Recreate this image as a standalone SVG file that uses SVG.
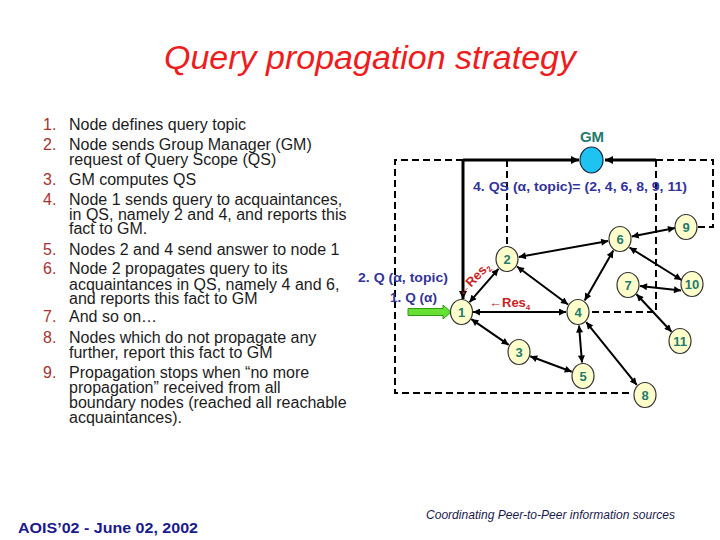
<svg xmlns="http://www.w3.org/2000/svg" width="720" height="540" viewBox="0 0 720 540">
<style>
.title{font-family:"Liberation Sans",Arial,sans-serif;font-style:italic;font-size:34px;fill:#ee1c1c}
.lst{font-family:"Liberation Sans",Arial,sans-serif;font-size:16px;fill:#1c1c1c}
.num{font-family:"Liberation Sans",Arial,sans-serif;font-size:16px;fill:#a83232}
.nd ellipse{fill:#ffffcc;stroke:#333;stroke-width:1.2}
.nd text{font-family:"Liberation Sans",Arial,sans-serif;font-size:13px;font-weight:bold;fill:#1f7a6c;text-anchor:middle}
.lbl{font-family:"Liberation Sans",Arial,sans-serif;font-size:13px;font-weight:bold;fill:#333399}
.res{font-family:"Liberation Sans",Arial,sans-serif;font-size:13px;font-weight:bold;fill:#cc2222}
.e{stroke:#000;stroke-width:2;fill:none;marker-start:url(#ah);marker-end:url(#ah)}
.g{stroke:#000;stroke-width:3;fill:none;marker-end:url(#ah2)}
.d{stroke:#000;stroke-width:2;fill:none;stroke-dasharray:7,4}
</style>
<defs>
<marker id="ah" viewBox="0 0 10 10" refX="10" refY="5" markerWidth="8" markerHeight="7" markerUnits="userSpaceOnUse" orient="auto-start-reverse">
<path d="M0,0 L10,5 L0,10 z" fill="#000"/>
</marker>
<marker id="ah2" viewBox="0 0 10 10" refX="10" refY="5" markerWidth="9" markerHeight="8" markerUnits="userSpaceOnUse" orient="auto">
<path d="M0,0 L10,5 L0,10 z" fill="#000"/>
</marker>
</defs>
<rect width="720" height="540" fill="#fff"/>
<text class="title" x="370" y="69" text-anchor="middle">Query propagation strategy</text>

<g id="list">
<text class="num" x="43" y="130">1.</text><text class="lst" x="69" y="130">Node defines  query topic</text>
<text class="num" x="43" y="150">2.</text><text class="lst" x="69" y="150">Node sends Group Manager (GM)</text>
<text class="lst" x="69" y="165">request of  Query Scope (QS)</text>
<text class="num" x="43" y="185">3.</text><text class="lst" x="69" y="185">GM computes QS</text>
<text class="num" x="43" y="205">4.</text><text class="lst" x="69" y="205">Node 1 sends query to acquaintances,</text>
<text class="lst" x="69" y="220">in QS, namely 2 and 4, and reports this</text>
<text class="lst" x="69" y="234">fact to GM.</text>
<text class="num" x="43" y="255">5.</text><text class="lst" x="69" y="255">Nodes 2 and 4 send answer to node 1</text>
<text class="num" x="43" y="274">6.</text><text class="lst" x="69" y="274">Node 2 propagates query to its</text>
<text class="lst" x="69" y="290">acquaintances in QS, namely 4 and 6,</text>
<text class="lst" x="69" y="304">and reports this fact to GM</text>
<text class="num" x="43" y="322">7.</text><text class="lst" x="69" y="322">And so on…</text>
<text class="num" x="43" y="343">8.</text><text class="lst" x="69" y="343">Nodes which do not propagate any</text>
<text class="lst" x="69" y="358">further, report this fact to GM</text>
<text class="num" x="43" y="378">9.</text><text class="lst" x="69" y="378">Propagation stops when “no more</text>
<text class="lst" x="69" y="393">propagation” received from all</text>
<text class="lst" x="69" y="408">boundary nodes (reached all reachable</text>
<text class="lst" x="69" y="423">acquaintances).</text>
</g>

<g id="connectors">
<path class="d" d="M463,160 H395 V393 H633"/>
<path class="d" d="M507,160 V246"/>
<path class="d" d="M656,160 V312 H590"/>
<path class="d" d="M656,160 H713 V227 H698"/>
<path class="g" d="M463,160 H579"/>
<path class="g" d="M656,160 H605"/>
<path class="g" d="M463,160 V299"/>
<line class="e" x1="469.5" y1="302.2" x2="498.5" y2="268.8"/>
<line class="e" x1="473" y1="312" x2="566" y2="312"/>
<line class="e" x1="471.3" y1="319.1" x2="508.7" y2="344.9"/>
<line class="e" x1="517" y1="266.5" x2="568" y2="304.5"/>
<line class="e" x1="518.8" y1="256.9" x2="608.2" y2="241.1"/>
<line class="e" x1="584.7" y1="300.4" x2="613.3" y2="250.6"/>
<line class="e" x1="631.7" y1="236.5" x2="675" y2="228"/>
<line class="e" x1="629.5" y1="247.5" x2="681.5" y2="280"/>
<line class="e" x1="640" y1="286" x2="681" y2="290.5"/>
<line class="e" x1="636.5" y1="294.2" x2="671.5" y2="331.8"/>
<line class="e" x1="579" y1="325.5" x2="582" y2="362.5"/>
<line class="e" x1="586.2" y1="322.1" x2="636.8" y2="384.9"/>
<line class="e" x1="530.2" y1="356.2" x2="571.8" y2="371.8"/>
<path d="M408,308.5 H443 V305 L451,312 L443,319 V315.5 H408 z" fill="#66e033" stroke="#2f9a10" stroke-width="1"/>
</g>

<g id="labels">
<text class="lbl" x="358" y="282" textLength="90" lengthAdjust="spacingAndGlyphs">2. Q (α, topic)</text>
<text class="lbl" x="390" y="302" textLength="47" lengthAdjust="spacingAndGlyphs">1. Q (α)</text>
<text class="lbl" x="473" y="191" textLength="214" lengthAdjust="spacingAndGlyphs">4. QS (α, topic)= (2, 4, 6, 8, 9, 11)</text>
<text class="res" x="489" y="307">←Res<tspan font-size="8" dy="3">4</tspan></text>
<text class="res" transform="translate(462,297) rotate(-46)" x="0" y="0">←Res<tspan font-size="8" dy="3">2</tspan></text>
</g>

<g id="GM">
<ellipse cx="591.5" cy="160" rx="11.5" ry="13" fill="#1ec3f2" stroke="#223" stroke-width="1.2"/>
<text x="592" y="142" text-anchor="middle" font-family="'Liberation Sans',Arial,sans-serif" font-size="15" font-weight="bold" fill="#1f7a6c">GM</text>
</g>
<g id="n1" class="nd"><ellipse cx="461.5" cy="312" rx="11" ry="12.5"/><text x="461.5" y="317">1</text></g>
<g id="n2" class="nd"><ellipse cx="507" cy="259" rx="11" ry="12.5"/><text x="507" y="264">2</text></g>
<g id="n3" class="nd"><ellipse cx="519" cy="352" rx="11" ry="12.5"/><text x="519" y="357">3</text></g>
<g id="n4" class="nd"><ellipse cx="578" cy="312" rx="11" ry="12.5"/><text x="578" y="317">4</text></g>
<g id="n5" class="nd"><ellipse cx="583" cy="376" rx="11" ry="12.5"/><text x="583" y="381">5</text></g>
<g id="n6" class="nd"><ellipse cx="620" cy="239" rx="11" ry="12.5"/><text x="620" y="244">6</text></g>
<g id="n7" class="nd"><ellipse cx="628" cy="285" rx="11" ry="12.5"/><text x="628" y="290">7</text></g>
<g id="n8" class="nd"><ellipse cx="645" cy="395" rx="11" ry="12.5"/><text x="645" y="400">8</text></g>
<g id="n9" class="nd"><ellipse cx="686" cy="227" rx="11" ry="12.5"/><text x="686" y="232">9</text></g>
<g id="n10" class="nd"><ellipse cx="692" cy="284" rx="11" ry="12.5"/><text x="692" y="289">10</text></g>
<g id="n11" class="nd"><ellipse cx="680" cy="341" rx="11" ry="12.5"/><text x="680" y="346">11</text></g>

<text x="18" y="533" font-family="'Liberation Sans',Arial,sans-serif" font-size="15" font-weight="bold" fill="#1a1a8c" textLength="180" lengthAdjust="spacingAndGlyphs">AOIS’02 - June 02, 2002</text>
<text x="426" y="519" font-family="'Liberation Sans',Arial,sans-serif" font-size="12" font-style="italic" fill="#1a1a4a" textLength="249" lengthAdjust="spacingAndGlyphs">Coordinating Peer-to-Peer information sources</text>
</svg>
